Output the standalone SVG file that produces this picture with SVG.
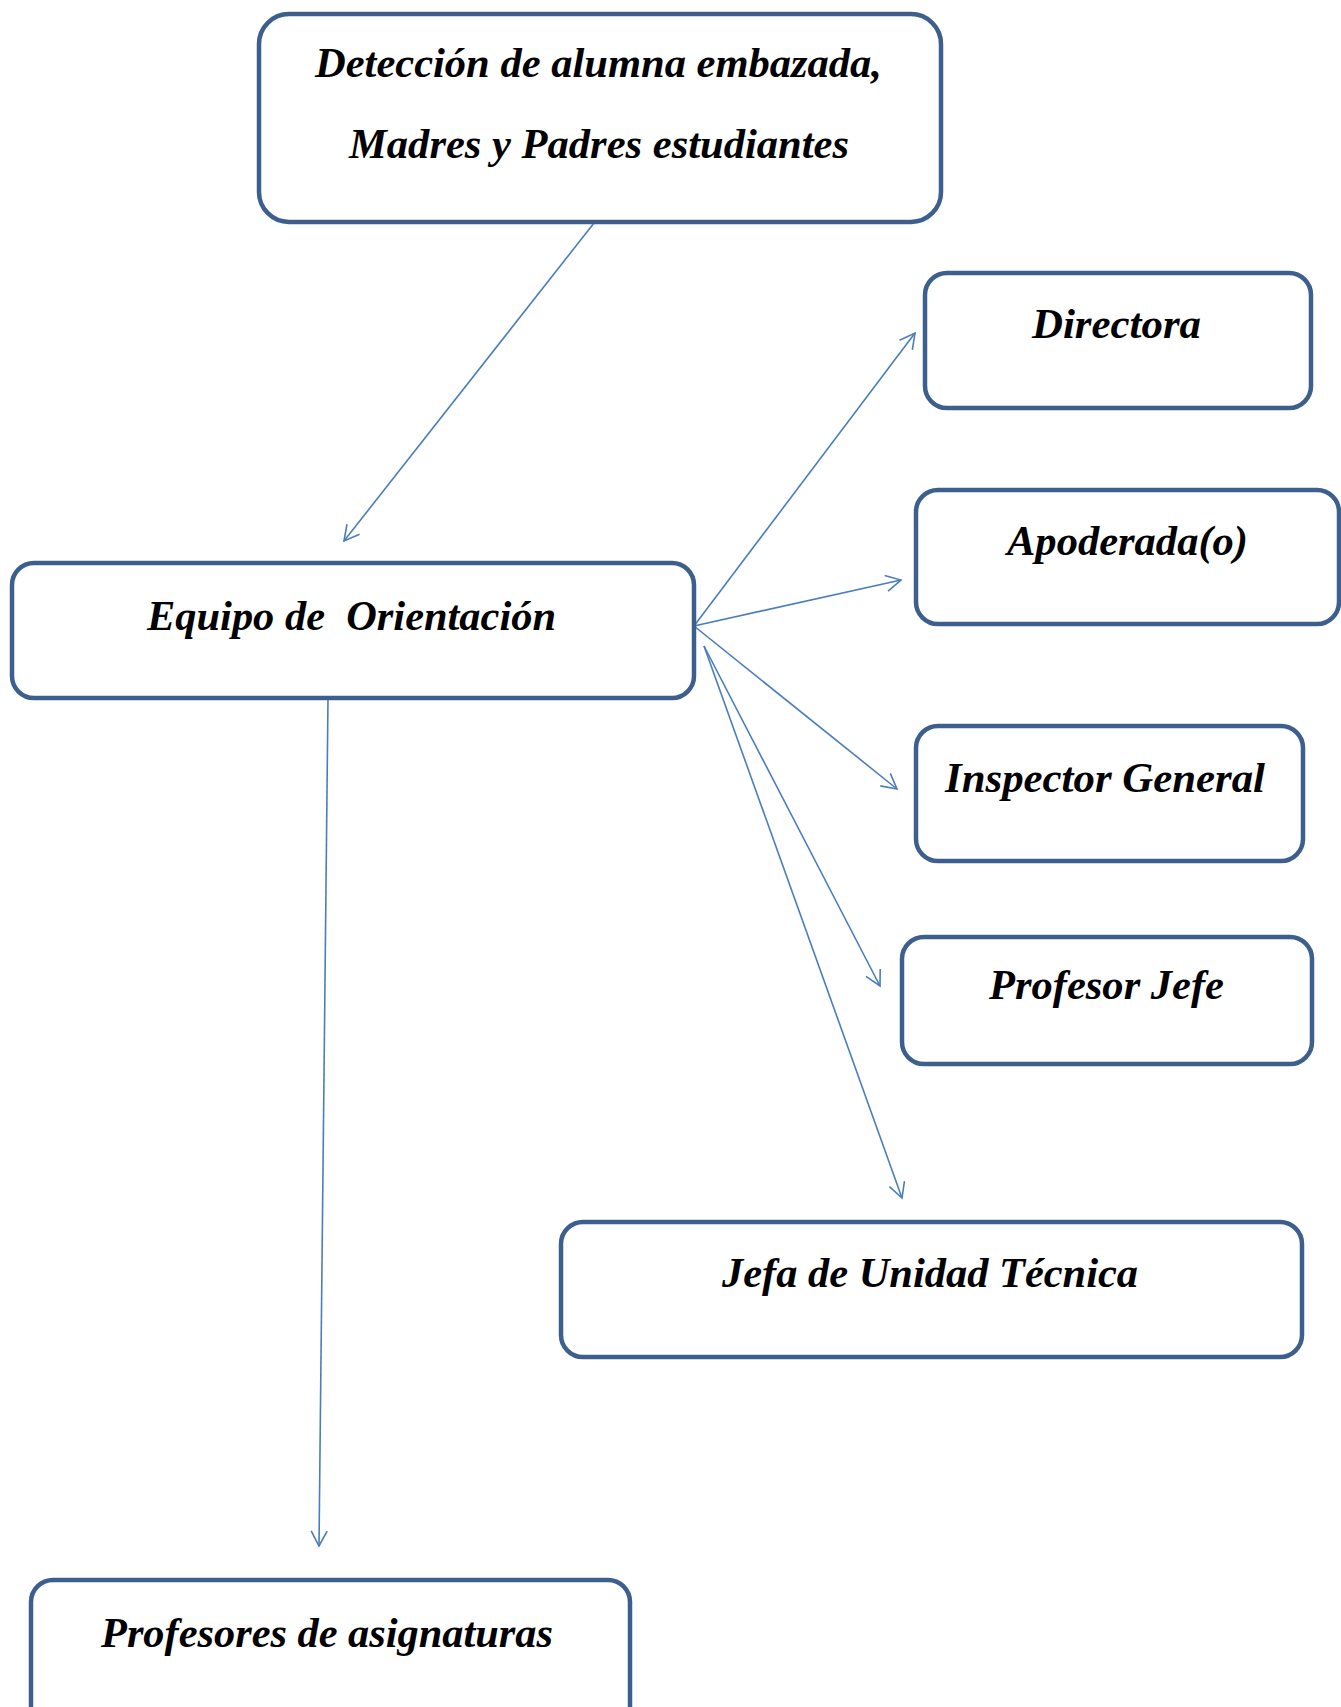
<svg xmlns="http://www.w3.org/2000/svg" width="1341" height="1707" viewBox="0 0 1341 1707">
<style>
.box{fill:#ffffff;stroke:#3c5f8e;stroke-width:4.5}
.lbl{font-family:"Liberation Serif","Times New Roman",serif;font-weight:bold;font-style:italic;font-size:42px;fill:#000;text-anchor:middle;white-space:pre}
.conn{stroke:#4a7ebb;stroke-width:1.6;fill:none;marker-end:url(#arr)}
</style>
<defs>
<marker id="arr" viewBox="0 0 18 18" refX="16" refY="9" markerWidth="18" markerHeight="18" markerUnits="userSpaceOnUse" orient="auto">
<path d="M1,1 L16,9 L1,17" fill="none" stroke="#4a7ebb" stroke-width="1.6"/>
</marker>
</defs>
<rect width="1341" height="1707" fill="#ffffff"/>
<g id="connectors">
<line class="conn" x1="594" y1="223" x2="344" y2="541"/>
<line class="conn" x1="694" y1="626" x2="915" y2="333"/>
<line class="conn" x1="694" y1="626" x2="901" y2="580"/>
<line class="conn" x1="694" y1="626" x2="897" y2="789"/>
<line class="conn" x1="704" y1="646" x2="880" y2="986"/>
<line class="conn" x1="704" y1="646" x2="902" y2="1198"/>
<line class="conn" x1="328" y1="698" x2="319" y2="1546"/>
</g>
<g id="node-deteccion">
<rect class="box" x="259" y="14" width="682" height="208" rx="30"/>
<text class="lbl" x="598.5" y="77" textLength="567" lengthAdjust="spacingAndGlyphs">Detección de alumna embazada,</text>
<text class="lbl" x="599" y="158" textLength="500" lengthAdjust="spacingAndGlyphs">Madres y Padres estudiantes</text>
</g>
<g id="node-equipo">
<rect class="box" x="12" y="563" width="682" height="135" rx="22"/>
<text class="lbl" x="351.5" y="630" textLength="409" lengthAdjust="spacingAndGlyphs">Equipo de  Orientación</text>
</g>
<g id="node-directora">
<rect class="box" x="925" y="273" width="386" height="135" rx="22"/>
<text class="lbl" x="1116.5" y="338" textLength="169" lengthAdjust="spacingAndGlyphs">Directora</text>
</g>
<g id="node-apoderada">
<rect class="box" x="916" y="490" width="423" height="134" rx="22"/>
<text class="lbl" x="1127.5" y="555" textLength="241" lengthAdjust="spacingAndGlyphs">Apoderada(o)</text>
</g>
<g id="node-inspector">
<rect class="box" x="916" y="726" width="387" height="135" rx="22"/>
<text class="lbl" x="1105" y="792" textLength="320" lengthAdjust="spacingAndGlyphs">Inspector General</text>
</g>
<g id="node-profesor-jefe">
<rect class="box" x="902" y="937" width="410" height="127" rx="22"/>
<text class="lbl" x="1106.5" y="999" textLength="235" lengthAdjust="spacingAndGlyphs">Profesor Jefe</text>
</g>
<g id="node-jefa-utp">
<rect class="box" x="561" y="1222" width="741" height="135" rx="22"/>
<text class="lbl" x="930" y="1287" textLength="416" lengthAdjust="spacingAndGlyphs">Jefa de Unidad Técnica</text>
</g>
<g id="node-profesores">
<rect class="box" x="31" y="1580" width="599" height="150" rx="22"/>
<text class="lbl" x="327" y="1647" textLength="452" lengthAdjust="spacingAndGlyphs">Profesores de asignaturas</text>
</g>
</svg>
